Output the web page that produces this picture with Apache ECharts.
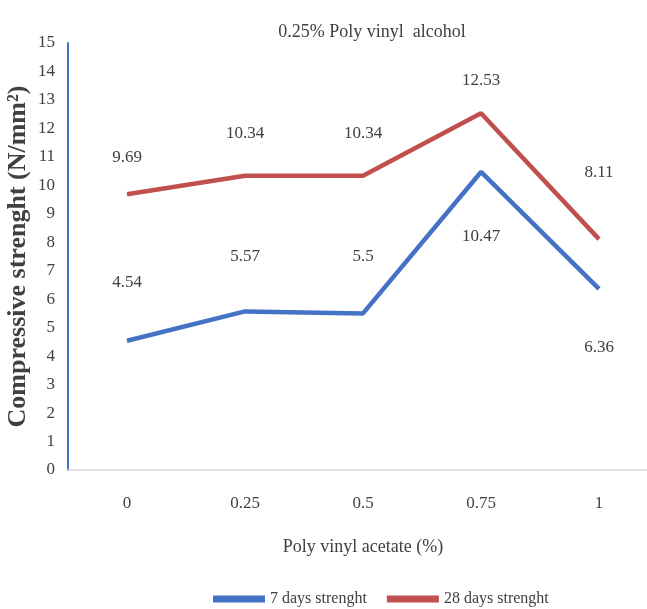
<!DOCTYPE html>
<html>
<head>
<meta charset="utf-8">
<script src="https://cdn.jsdelivr.net/npm/echarts@6/dist/echarts.min.js"></script>
<style>
html,body{margin:0;padding:0;background:#fff;}
#chart{width:647px;height:609px;}
</style>
</head>
<body>
<div id="chart"></div>
<script>
const categories = ['0', '0.25', '0.5', '0.75', '1'];
const days7 = [4.54, 5.57, 5.5, 10.47, 6.36];
const days28 = [9.69, 10.34, 10.34, 12.53, 8.11];
const seriesNames = ['7 days strenght', '28 days strenght'];

const FONT = 'Liberation Serif';
const TXT = '#404040';

// label placement (style only)
const blueLabelPos = ['top', 'top', 'top', 'bottom', 'bottom'];
const blueLabelDist = [50, 46, 48, 56, 50];
const redLabelPos = ['top', 'top', 'top', 'top', 'top'];
const redLabelDist = [28, 34, 34, 24, 58];

function buildData(vals, pos, dist) {
  return vals.map((v, i) => ({
    value: v,
    label: { show: true, position: pos[i], distance: dist[i] }
  }));
}

const chart = echarts.init(document.getElementById('chart'), null, {renderer: 'canvas'});
chart.setOption({
  animation: false,
  backgroundColor: '#fff',
  title: {
    text: '0.25% Poly vinyl  alcohol',
    left: 367,
    top: 18,
    textAlign: 'center',
    textStyle: { fontFamily: FONT, fontSize: 18, fontWeight: 'normal', color: TXT }
  },
  legend: {
    bottom: -3,
    left: 208,
    itemWidth: 52,
    itemHeight: 7,
    itemGap: 20,
    icon: 'rect',
    textStyle: { fontFamily: FONT, fontSize: 16, color: TXT },
    data: seriesNames
  },
  grid: { left: 68, top: 43, bottom: 139, width: 590, outerBoundsMode: 'none', containLabel: false },
  xAxis: {
    type: 'category',
    data: categories,
    boundaryGap: true,
    name: 'Poly vinyl acetate (%)',
    nameLocation: 'middle',
    nameGap: 68,
    nameMoveOverlap: false,
    nameTextStyle: { fontFamily: FONT, fontSize: 18, color: TXT },
    axisLine: { lineStyle: { color: '#d9d9d9', width: 1.5 } },
    axisTick: { show: false },
    axisLabel: { fontFamily: FONT, fontSize: 17, color: TXT, margin: 25 },
    splitLine: { show: false }
  },
  yAxis: {
    type: 'value',
    min: 0,
    max: 15,
    interval: 1,
    name: 'Compressive strenght (N/mm²)',
    nameLocation: 'middle',
    nameGap: 37,
    nameMoveOverlap: false,
    nameTextStyle: { fontFamily: FONT, fontSize: 26, fontWeight: 'bold', color: TXT },
    axisLine: { show: true, lineStyle: { color: '#4472C4', width: 2 } },
    axisTick: { show: false },
    axisLabel: { fontFamily: FONT, fontSize: 17, color: TXT, margin: 13 },
    splitLine: { show: false }
  },
  series: [
    {
      name: seriesNames[0],
      type: 'line',
      data: buildData(days7, blueLabelPos, blueLabelDist),
      symbol: 'circle',
      symbolSize: 0,
      showSymbol: true,
      lineStyle: { color: '#4472C4', width: 4.5 },
      itemStyle: { color: '#4472C4' },
      label: { show: true, fontFamily: FONT, fontSize: 17, color: TXT }
    },
    {
      name: seriesNames[1],
      type: 'line',
      data: buildData(days28, redLabelPos, redLabelDist),
      symbol: 'circle',
      symbolSize: 0,
      showSymbol: true,
      lineStyle: { color: '#C0504D', width: 4.5 },
      itemStyle: { color: '#C0504D' },
      label: { show: true, fontFamily: FONT, fontSize: 17, color: TXT }
    }
  ]
});
</script>
</body>
</html>
